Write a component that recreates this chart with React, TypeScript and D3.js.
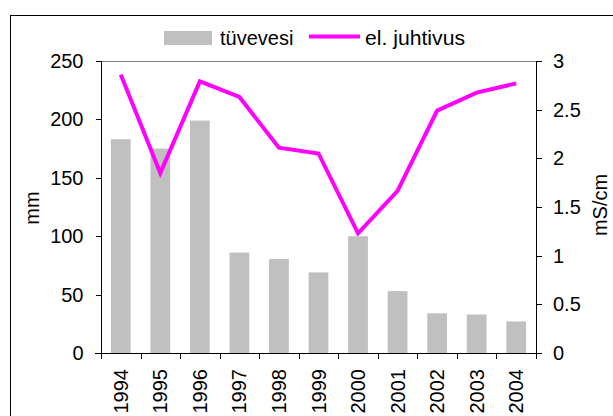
import React from "react";
import * as d3 from "d3";

const years = ["1994","1995","1996","1997","1998","1999","2000","2001","2002","2003","2004"];
const tuvevesi = [183, 175, 199, 86, 80.5, 69, 100, 53, 34, 33, 27];
const juhtivus = [2.86, 1.85, 2.79, 2.63, 2.11, 2.05, 1.23, 1.665, 2.49, 2.675, 2.77];
const leftTicks = [0, 50, 100, 150, 200, 250];
const rightTicks = [0, 0.5, 1, 1.5, 2, 2.5, 3];

export default function App() {
  const W = 613, H = 416;
  const left = 101, right = 536, top = 61, bottom = 353;
  const x = d3.scaleBand<string>().domain(years).range([left, right]).paddingInner(0).paddingOuter(0);
  const yL = d3.scaleLinear().domain([0, 250]).range([bottom, top]);
  const yR = d3.scaleLinear().domain([0, 3]).range([bottom, top]);
  const bw = x.bandwidth() * 0.5;
  const line = d3.line<number>()
    .x((_, i) => (x(years[i]) as number) + x.bandwidth() / 2)
    .y(d => yR(d));
  const font = "'Liberation Sans', Arial, sans-serif";
  const fs = 20;
  return (
    <svg width={W} height={H} style={{ position: "absolute", left: 0, top: 0, display: "block" }} fontFamily={font}>
      <rect x={0} y={0} width={W} height={H} fill="#fff" />
      <rect x={10.5} y={15.5} width={W + 20} height={H + 20} fill="none" stroke="#000" strokeWidth={1} />
      {/* plot top border */}
      <line x1={left} x2={right} y1={top + 0.5} y2={top + 0.5} stroke="#808080" strokeWidth={1} />
      {/* bars */}
      {tuvevesi.map((v, i) => {
        const cx = (x(years[i]) as number) + x.bandwidth() / 2;
        return <rect key={i} x={cx - bw / 2} y={yL(v)} width={bw} height={bottom - yL(v)} fill="#C0C0C0" />;
      })}
      {/* line */}
      <path d={line(juhtivus) as string} fill="none" stroke="#FF00FF" strokeWidth={4} strokeLinejoin="miter" />
      {/* left axis */}
      <line x1={left + 0.5} x2={left + 0.5} y1={top} y2={bottom} stroke="#000" />
      {leftTicks.map(t => (
        <g key={t}>
          <line x1={left - 5} x2={left} y1={Math.round(yL(t)) + 0.5} y2={Math.round(yL(t)) + 0.5} stroke="#000" />
          <text x={83.5} y={yL(t) + 7} textAnchor="end" fontSize={fs}>{t}</text>
        </g>
      ))}
      <text transform={`translate(39,208) rotate(-90)`} textAnchor="middle" fontSize={fs}>mm</text>
      {/* right axis */}
      <line x1={right + 0.5} x2={right + 0.5} y1={top} y2={bottom} stroke="#000" />
      {rightTicks.map(t => (
        <g key={t}>
          <line x1={right} x2={right + 6} y1={Math.round(yR(t)) + 0.5} y2={Math.round(yR(t)) + 0.5} stroke="#000" />
          <text x={553} y={yR(t) + 7} textAnchor="start" fontSize={fs}>{String(t)}</text>
        </g>
      ))}
      <text transform={`translate(607,205) rotate(-90)`} textAnchor="middle" fontSize={fs}>mS/cm</text>
      {/* x axis */}
      <line x1={left - 6} x2={right + 6} y1={bottom + 0.5} y2={bottom + 0.5} stroke="#000" />
      {years.map((yr, i) => {
        const bx = x(yr) as number;
        const cx = bx + x.bandwidth() / 2;
        return (
          <g key={yr}>
            <line x1={Math.round(bx) + 0.5} x2={Math.round(bx) + 0.5} y1={bottom} y2={bottom + 6} stroke="#000" />
            <text transform={`translate(${cx + 7},369) rotate(-90)`} textAnchor="end" fontSize={fs}>{yr}</text>
          </g>
        );
      })}
      <line x1={right + 0.5} x2={right + 0.5} y1={bottom} y2={bottom + 6} stroke="#000" />
      {/* legend */}
      <rect x={164} y={31} width={48} height={14} fill="#C0C0C0" />
      <text x={220} y={45} fontSize={fs}>tüvevesi</text>
      <line x1={309} x2={360} y1={36.5} y2={36.5} stroke="#FF00FF" strokeWidth={4} />
      <text x={365} y={45} fontSize={fs} textLength={100} lengthAdjust="spacingAndGlyphs">el. juhtivus</text>
    </svg>
  );
}
